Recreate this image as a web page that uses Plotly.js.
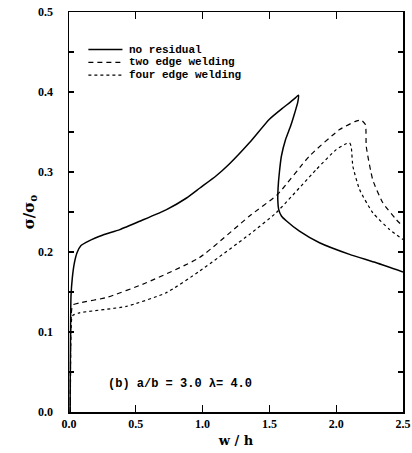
<!DOCTYPE html>
<html>
<head>
<meta charset="utf-8">
<script src="https://cdn.plot.ly/plotly-3.0.1.min.js"></script>
<style>
  html, body { margin: 0; padding: 0; background: #fff; }
  #chart { width: 412px; height: 453px; }
</style>
</head>
<body>
<div id="chart"></div>
<script>
// Normalised stress sigma/sigma_o against normalised deflection w/h
const seriesNames = ["no residual", "two edge welding", "four edge welding"];

const noResidualX = [0.008, 0.010, 0.012, 0.015, 0.025, 0.040, 0.060, 0.090, 0.150, 0.250, 0.380, 0.530, 0.730, 0.880, 0.980, 1.100, 1.200, 1.350, 1.500, 1.600, 1.650, 1.690, 1.718, 1.712, 1.690, 1.660, 1.620, 1.590, 1.575, 1.565, 1.563, 1.570, 1.590, 1.626, 1.725, 1.875, 2.100, 2.300, 2.500];
const noResidualY = [0.000, 0.060, 0.110, 0.145, 0.168, 0.186, 0.199, 0.208, 0.214, 0.221, 0.228, 0.2385, 0.253, 0.2675, 0.280, 0.295, 0.310, 0.3365, 0.366, 0.380, 0.3865, 0.392, 0.396, 0.387, 0.374, 0.358, 0.340, 0.320, 0.300, 0.280, 0.265, 0.253, 0.245, 0.239, 0.226, 0.2115, 0.197, 0.1865, 0.175];

const twoEdgeX = [0.010, 0.014, 0.020, 0.030, 0.080, 0.278, 0.578, 0.977, 1.351, 1.561, 1.800, 2.025, 2.140, 2.187, 2.219, 2.225, 2.274, 2.349, 2.449, 2.500];
const twoEdgeY = [0.000, 0.110, 0.128, 0.134, 0.1365, 0.143, 0.1615, 0.193, 0.245, 0.272, 0.320, 0.353, 0.363, 0.365, 0.359, 0.332, 0.290, 0.2615, 0.2406, 0.232];

const fourEdgeX = [0.010, 0.014, 0.020, 0.030, 0.079, 0.428, 0.727, 0.977, 1.351, 1.550, 1.850, 2.000, 2.070, 2.100, 2.112, 2.125, 2.175, 2.274, 2.400, 2.500];
const fourEdgeY = [0.000, 0.100, 0.116, 0.121, 0.124, 0.132, 0.149, 0.176, 0.222, 0.249, 0.303, 0.328, 0.335, 0.3365, 0.332, 0.307, 0.278, 0.249, 0.228, 0.2156];

const xTicks = [0.0, 0.5, 1.0, 1.5, 2.0, 2.5];
const yTicks = [0.0, 0.1, 0.2, 0.3, 0.4, 0.5];

const caseLabel = "(b) a/b = 3.0 \u03bb= 4.0";

const tickFont = { family: "Liberation Serif", size: 12, color: "#000", weight: "bold" };
const titleFont = { family: "DejaVu Serif", size: 13, color: "#000", weight: "bold" };
const textFont = { family: "Liberation Mono", size: 11, color: "#000", weight: "bold" };

const styles = [
  { color: "#000", width: 1.5, dash: "solid" },
  { color: "#000", width: 1.2, dash: "5px,4px" },
  { color: "#000", width: 1.2, dash: "3px,3px" }
];

const xs = [noResidualX, twoEdgeX, fourEdgeX];
const ys = [noResidualY, twoEdgeY, fourEdgeY];

const traces = seriesNames.map((name, i) => ({
  x: xs[i], y: ys[i], name: name, type: "scatter", mode: "lines",
  line: Object.assign({ shape: "spline", smoothing: 0.5 }, styles[i]),
  showlegend: false, hoverinfo: "skip"
}));

// hand-built key in the upper left of the frame
const keyShapes = [];
const keyNotes = [];
seriesNames.forEach((name, i) => {
  const yy = 0.906 - i * 0.032;
  keyShapes.push({
    type: "line", xref: "paper", yref: "paper",
    x0: 0.058, x1: 0.160, y0: yy, y1: yy,
    line: styles[i]
  });
  keyNotes.push({
    xref: "paper", yref: "paper", x: 0.178, y: yy,
    xanchor: "left", yanchor: "middle", showarrow: false,
    text: name, font: textFont, borderpad: 0
  });
});

keyNotes.push({
  xref: "paper", yref: "paper", x: 0.112, y: 0.071,
  xanchor: "left", yanchor: "middle", showarrow: false,
  text: caseLabel, font: Object.assign({}, textFont, { size: 12 })
});

const layout = {
  width: 412, height: 453,
  margin: { l: 69, r: 9, t: 12, b: 41 },
  paper_bgcolor: "#fff", plot_bgcolor: "#fff",
  showlegend: false,
  xaxis: {
    range: [0, 2.5], tickvals: xTicks, ticktext: xTicks.map(v => v.toFixed(1)),
    ticks: "inside", ticklen: 7, tickwidth: 1.2, tickcolor: "#000",
    showline: true, linecolor: "#000", linewidth: 1.5, mirror: "ticks",
    showgrid: false, zeroline: false, tickfont: tickFont, ticklabeloverflow: "allow",
    title: { text: "w / h", font: titleFont, standoff: 6 }
  },
  yaxis: {
    range: [0, 0.5], tickvals: yTicks, ticktext: yTicks.map(v => v.toFixed(1)),
    ticks: "inside", ticklen: 5, tickwidth: 1.2, tickcolor: "#000",
    minor: { dtick: 0.05, ticks: "inside", ticklen: 5, tickwidth: 1.2, tickcolor: "#000", showgrid: false },
    showline: true, linecolor: "#000", linewidth: 1.5, mirror: "ticks",
    showgrid: false, zeroline: false, tickfont: tickFont, ticklabelstandoff: 12,
    ticklabeloverflow: "allow",
    title: { text: "\u03c3/\u03c3<sub>o</sub>", font: Object.assign({}, titleFont, { size: 15 }), standoff: 0 }
  },
  shapes: keyShapes,
  annotations: keyNotes
};

Plotly.newPlot("chart", traces, layout, { displayModeBar: false, staticPlot: true });
</script>
</body>
</html>
